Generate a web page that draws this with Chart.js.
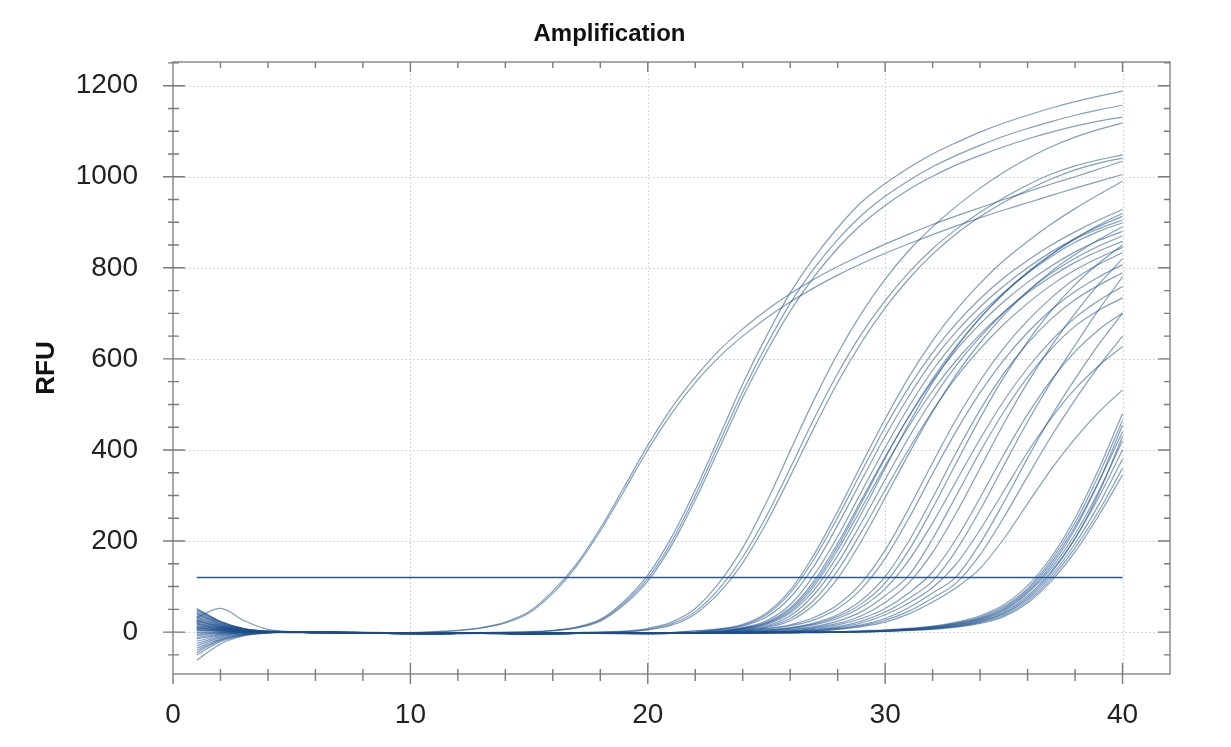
<!DOCTYPE html>
<html>
<head>
<meta charset="utf-8">
<title>Amplification</title>
<script src="https://cdn.jsdelivr.net/npm/chart.js@4.4.1/dist/chart.umd.min.js"></script>
<style>
  html, body { margin: 0; padding: 0; background: #fff; }
  #wrap { width: 1231px; height: 747px; position: relative; }
</style>
</head>
<body>
<div id="wrap"><canvas id="ampChart"></canvas></div>
<script>
const cycles = [1,2,3,4,5,6,7,8,9,10,11,12,13,14,15,16,17,18,19,20,21,22,23,24,25,26,27,28,29,30,31,32,33,34,35,36,37,38,39,40]

const xTicks = [0, 10, 20, 30, 40]
const yTicks = [0, 200, 400, 600, 800, 1000, 1200]
const threshold = 120

// RFU per cycle, one array per well
const wellA1 = [52,24,8,2, 1,0,-1,-2,-2,-1, 1,4,10,22,45,90,150,228,318,410, 492,560,618,666,707,743,775,803,828,852, 874,895,914,932,950,967,984,1000,1017,1034]
const wellA2 = [18,9,3,1, 0,-1,-2,-2,-3,-2, 0,3,9,20,42,85,145,222,310,400, 480,548,604,650,690,725,756,784,809,832, 853,873,892,910,927,943,959,975,990,1005]

const wellB1 = [40,19,6,1, 1,0,-1,-1,-2,-3, -3,-2,-1,0,1,4,11,28,68,125, 208,312,428,545,650,745,822,888,944,985, 1020,1050,1075,1098,1118,1135,1151,1165,1177,1188]
const wellB2 = [10,5,2,0, -1,-1,-2,-2,-3,-4, -4,-3,-2,-1,0,3,10,26,64,118, 198,300,414,528,630,722,798,862,915,957, 992,1022,1047,1069,1089,1106,1121,1135,1147,1157]
const wellB3 = [-20,-8,-2,0, 0,-1,-2,-3,-3,-4, -3,-3,-2,-1,0,3,9,24,60,112, 190,290,402,515,615,705,780,843,895,937, 972,1001,1026,1047,1066,1083,1098,1111,1122,1131]

const wellC1 = [45,21,7,2, 1,0,-1,-2,-2,-3, -3,-2,-2,-3,-3,-2,-1,0,2,8, 22,52,108,185,285,398,510,612,700,775, 838,890,935,975,1010,1040,1066,1087,1104,1118]
const wellC2 = [25,12,4,1, 0,-1,-2,-2,-3,-4, -4,-3,-3,-4,-4,-3,-2,-1,1,6, 18,45,95,165,255,360,468,568,655,728, 790,842,885,922,954,982,1006,1024,1037,1048]
const wellC3 = [-35,-15,-5,-1, 0,0,-1,-2,-2,-3, -3,-2,-2,-3,-3,-2,-1,0,1,5, 15,40,86,152,240,342,448,548,636,712, 776,830,875,912,944,971,995,1015,1030,1041]

const wellD1 = [35,16,5,1, 1,0,-1,-1,-2,-3, -3,-2,-2,-3,-4,-3,-2,-2,-3,-2, -1,3,7,17,42,92,170,265,368,468, 560,640,708,766,816,858,896,930,961,990]
const wellD2 = [28,13,4,1, 0,-1,-1,-2,-3,-4, -4,-3,-3,-4,-5,-4,-3,-3,-3,-2, -1,2,6,15,38,86,160,252,352,450, 538,614,678,732,778,816,850,879,905,928]
const wellD3 = [22,10,3,0, 1,1,0,0,-1,-2, -2,-1,-1,-2,-3,-2,-1,-1,-2,-2, -1,0,5,13,33,76,145,235,333,430, 518,596,660,714,760,800,835,865,891,913]
const wellD4 = [15,7,2,0, 0,0,-1,-2,-3,-3, -4,-3,-2,-3,-4,-4,-3,-2,-3,-3, -2,-1,4,10,25,60,125,210,308,405, 495,575,642,698,746,788,825,856,880,899]
const wellD5 = [8,4,1,0, -1,-1,-2,-3,-3,-4, -4,-4,-3,-4,-5,-4,-3,-3,-4,-4, -3,-2,0,9,22,53,112,195,290,385, 473,552,620,677,726,768,804,835,860,880]
const wellD6 = [3,2,1,0, 1,0,0,-1,-2,-2, -3,-2,-1,-2,-3,-3,-2,-1,-2,-2, -2,-1,1,8,19,46,100,180,272,365, 452,530,597,654,703,745,781,812,837,858]
const wellD7 = [-5,-2,0,0, 0,-1,-1,-2,-2,-3, -3,-3,-2,-3,-4,-3,-2,-2,-3,-3, -2,-1,1,7,17,42,92,168,260,360, 458,548,625,690,745,791,830,863,886,905]
const wellD8 = [-12,-5,-1,0, 0,0,-1,-1,-2,-3, -3,-2,-2,-2,-3,-3,-2,-1,-2,-2, -1,-1,0,6,14,36,82,152,240,335, 428,512,586,648,702,748,788,821,848,870]
const wellD9 = [-45,-18,-6,-1, 0,-1,-2,-2,-3,-4, -4,-3,-3,-3,-4,-4,-3,-2,-3,-3, -2,-2,-1,5,12,30,70,135,220,312, 402,486,560,622,676,722,762,795,822,845]
const wellD10 = [30,14,4,1, 0,0,-1,-2,-2,-3, -3,-3,-2,-3,-4,-3,-2,-2,-3,-3, -2,-2,-1,2,10,25,60,118,200,295, 392,484,566,636,696,748,792,829,862,890]
const wellD11 = [48,22,7,2, 1,0,0,-1,-2,-3, -3,-2,-2,-3,-3,-3,-2,-1,-2,-2, -2,-1,2,8,20,50,106,188,284,382, 474,556,628,690,743,789,829,864,894,920]

const wellE1 = [50,23,7,2, 1,0,-1,-1,-2,-3, -3,-2,-2,-3,-3,-3,-2,-2,-3,-3, -2,-1,1,4,8,16,32,60,108,180, 272,372,468,552,624,684,734,776,808,833]
const wellE2 = [38,17,5,1, 0,0,-1,-2,-2,-3, -4,-3,-2,-3,-4,-3,-3,-2,-3,-3, -3,-2,-1,2,7,14,27,52,95,162, 250,348,442,526,598,658,708,748,780,807]
const wellE3 = [20,9,3,1, 1,1,0,-1,-1,-2, -2,-2,-1,-2,-3,-2,-2,-1,-2,-2, -2,-1,0,2,5,10,20,38,70,122, 200,295,395,488,568,634,688,730,762,789]
const wellE4 = [12,6,2,0, 0,-1,-1,-2,-3,-3, -4,-3,-3,-3,-4,-4,-3,-2,-3,-4, -3,-3,-2,0,4,9,18,34,62,108, 180,272,372,470,560,638,706,763,810,850]
const wellE5 = [5,2,1,0, 0,0,-1,-1,-2,-2, -3,-2,-2,-2,-3,-3,-2,-2,-2,-3, -2,-2,-1,0,3,8,16,30,55,95, 158,240,332,424,508,580,640,690,728,759]
const wellE6 = [0,0,0,0, 0,-1,-1,-2,-2,-3, -3,-3,-2,-3,-4,-3,-2,-2,-3,-3, -3,-2,-2,-1,2,6,12,24,45,80, 125,205,300,396,484,560,622,672,707,734]
const wellE7 = [-8,-3,-1,0, 0,0,-1,-2,-2,-3, -3,-2,-2,-3,-3,-3,-2,-2,-2,-3, -2,-2,-1,-1,1,5,10,19,36,65, 108,175,262,360,458,548,628,700,764,820]
const wellE8 = [-25,-10,-3,-1, 0,-1,-1,-2,-3,-3, -4,-3,-3,-3,-4,-4,-3,-3,-3,-4, -3,-3,-2,-2,-1,2,8,16,30,52, 86,132,205,295,390,478,554,616,664,701]
const wellE9 = [-62,-26,-8,-2, 0,0,-1,-1,-2,-3, -3,-2,-2,-2,-3,-3,-2,-2,-2,-3, -2,-2,-1,-1,0,2,6,12,24,44, 74,112,180,268,366,462,550,630,708,780]
const wellE10 = [42,19,6,1, 1,0,0,-1,-2,-2, -3,-2,-2,-3,-3,-2,-2,-1,-2,-2, -2,-1,-1,0,1,2,5,10,20,38, 64,98,150,225,310,395,470,534,585,627]
const wellE11 = [32,52,25,6, 1,0,-1,-2,-2,-3, -3,-3,-2,-3,-4,-3,-3,-2,-3,-3, -3,-2,-2,-1,-1,1,3,8,16,30, 54,86,122,195,285,382,474,556,632,700]
const wellE12 = [14,7,2,0, 0,-1,-1,-2,-2,-3, -3,-2,-2,-3,-3,-3,-2,-2,-2,-3, -2,-2,-1,-1,0,1,3,7,14,26, 46,75,108,170,252,342,430,510,584,650]
const wellE13 = [-15,-6,-2,0, 0,0,-1,-1,-2,-2, -3,-2,-2,-2,-3,-3,-2,-1,-2,-2, -2,-1,-1,0,0,1,2,6,12,22, 40,66,98,140,205,282,358,425,483,532]

const wellF1 = [26,12,4,1, 0,0,-1,-2,-2,-3, -3,-3,-2,-3,-4,-3,-2,-2,-3,-3, -3,-2,-2,-2,-1,-1,0,1,3,5, 8,13,22,36,60,102,165,250,358,480]
const wellF2 = [18,8,3,1, 1,0,0,-1,-2,-2, -3,-2,-2,-2,-3,-3,-2,-1,-2,-2, -2,-2,-1,-1,-1,0,0,1,2,4, 7,12,20,33,56,96,158,240,345,465]
const wellF3 = [6,3,1,0, 0,-1,-1,-2,-3,-3, -4,-3,-3,-3,-4,-4,-3,-2,-3,-3, -3,-3,-2,-2,-2,-1,-1,0,2,4, 7,11,19,31,53,92,152,232,330,440]
const wellF4 = [-2,-1,0,0, 0,0,-1,-1,-2,-2, -3,-2,-2,-2,-3,-3,-2,-2,-2,-3, -2,-2,-2,-1,-1,-1,0,0,1,3, 6,10,17,29,50,88,146,226,330,455]
const wellF5 = [-30,-12,-4,-1, 0,-1,-1,-2,-2,-3, -3,-3,-2,-3,-3,-3,-2,-2,-3,-3, -2,-2,-2,-2,-1,-1,0,0,1,3, 6,10,17,28,48,85,140,215,310,420]
const wellF6 = [-50,-21,-7,-2, 0,0,-1,-1,-2,-3, -3,-2,-2,-2,-3,-3,-2,-2,-2,-2, -2,-2,-1,-1,-1,0,0,0,1,2, 5,9,15,26,45,80,134,206,296,400]
const wellF7 = [33,15,5,1, 0,0,-1,-2,-2,-3, -3,-2,-2,-3,-4,-3,-2,-2,-3,-3, -3,-2,-2,-2,-2,-1,-1,0,1,2, 5,8,14,24,42,76,130,205,305,430]
const wellF8 = [24,11,3,1, 1,0,0,-1,-1,-2, -2,-2,-1,-2,-3,-2,-2,-1,-2,-2, -2,-1,-1,-1,-1,0,0,0,1,2, 5,8,13,23,40,72,124,194,280,380]
const wellF9 = [10,4,1,0, 0,-1,-1,-2,-2,-3, -3,-3,-2,-3,-3,-3,-2,-2,-2,-3, -2,-2,-2,-1,-1,-1,0,0,1,2, 4,7,12,21,37,68,118,185,266,360]
const wellF10 = [-40,-17,-5,-1, 0,0,-1,-1,-2,-3, -3,-2,-2,-2,-3,-3,-2,-2,-2,-2, -2,-2,-1,-1,-1,-1,0,0,0,2, 4,6,11,19,34,64,112,176,256,345]

const wells = [
  wellA1, wellA2, wellB1, wellB2, wellB3, wellC1, wellC2, wellC3,
  wellD1, wellD2, wellD3, wellD4, wellD5, wellD6, wellD7, wellD8, wellD9, wellD10, wellD11,
  wellE1, wellE2, wellE3, wellE4, wellE5, wellE6, wellE7, wellE8, wellE9, wellE10, wellE11, wellE12, wellE13,
  wellF1, wellF2, wellF3, wellF4, wellF5, wellF6, wellF7, wellF8, wellF9, wellF10
]

const lineColor = 'rgba(28, 78, 140, 0.55)'
const frameColor = '#8c8c8c'
const tickFont = { family: "'Liberation Sans', Arial, sans-serif", size: 28 }

// frame, dotted grid and the minor/major tick marks on all four sides
const plotFrame = {
  id: 'plotFrame',
  beforeDatasetsDraw(chart) {
    const { ctx, chartArea: a, scales: { x, y } } = chart
    ctx.save()
    ctx.strokeStyle = '#d6d6d6'
    ctx.lineWidth = 1
    ctx.setLineDash([2, 2])
    xTicks.forEach(v => {
      if (v === 0) return
      const px = Math.round(x.getPixelForValue(v)) + 0.5
      ctx.beginPath(); ctx.moveTo(px, a.top); ctx.lineTo(px, a.bottom); ctx.stroke()
    })
    yTicks.forEach(v => {
      const py = Math.round(y.getPixelForValue(v)) + 0.5
      ctx.beginPath(); ctx.moveTo(a.left, py); ctx.lineTo(a.right, py); ctx.stroke()
    })
    ctx.restore()
  },
  afterDraw(chart) {
    const { ctx, chartArea: a, scales: { x, y } } = chart
    ctx.save()
    ctx.strokeStyle = frameColor
    ctx.lineWidth = 1.5
    ctx.strokeRect(a.left, a.top, a.right - a.left, a.bottom - a.top)

    ctx.lineWidth = 1.4
    ctx.strokeStyle = '#7a7a7a'
    ctx.beginPath()
    for (let v = -50; v <= 1250; v += 50) {
      const py = y.getPixelForValue(v)
      const major = v % 200 === 0
      // left side crosses the axis, right side points inward
      ctx.moveTo(a.left - (major ? 10 : 5), py); ctx.lineTo(a.left + (major ? 12 : 6), py)
      ctx.moveTo(a.right, py); ctx.lineTo(a.right - (major ? 12 : 6), py)
    }
    for (let v = 2; v <= 40; v += 2) {
      const px = x.getPixelForValue(v)
      const major = v % 10 === 0
      ctx.moveTo(px, a.bottom + (major ? 10 : 7)); ctx.lineTo(px, a.bottom - (major ? 11 : 5))
      ctx.moveTo(px, a.top); ctx.lineTo(px, a.top + (major ? 10 : 6))
    }
    const x0 = x.getPixelForValue(0)
    ctx.moveTo(x0, a.bottom); ctx.lineTo(x0, a.bottom + 10)
    ctx.stroke()
    ctx.restore()
  }
}

const datasets = [{
  label: 'Threshold',
  data: [{ x: cycles[0], y: threshold }, { x: cycles[cycles.length - 1], y: threshold }],
  borderColor: 'rgb(38, 88, 152)',
  borderWidth: 1.6,
  pointRadius: 0
}]

wells.forEach((values, i) => {
  datasets.push({
    label: 'Well ' + (i + 1),
    data: values.map((v, k) => ({ x: cycles[k], y: v })),
    borderColor: lineColor,
    borderWidth: 1.2,
    pointRadius: 0,
    cubicInterpolationMode: 'monotone'
  })
})

const ctx = document.getElementById('ampChart')

new Chart(ctx, {
  type: 'line',
  data: { datasets },
  options: {
    responsive: true,
    maintainAspectRatio: false,
    animation: false,
    events: [],
    layout: { padding: { left: 0, right: 12, top: 0, bottom: 0 } },
    plugins: {
      legend: { display: false },
      tooltip: { enabled: false },
      title: {
        display: true,
        text: 'Amplification',
        color: '#111',
        font: { family: "'Liberation Sans', Arial, sans-serif", size: 24, weight: 'bold' },
        padding: { top: 20, bottom: 13.2 }
      }
    },
    scales: {
      x: {
        type: 'linear',
        min: 0,
        max: 42,
        grid: { display: false },
        border: { display: false },
        afterBuildTicks: s => { s.ticks = xTicks.map(v => ({ value: v })) },
        afterFit: s => { s.height = 73 },
        ticks: { color: '#222', font: tickFont, padding: 16, autoSkip: false, maxRotation: 0, callback: v => String(v) }
      },
      y: {
        type: 'linear',
        min: -92,
        max: 1252,
        grid: { display: false },
        border: { display: false },
        afterBuildTicks: s => { s.ticks = yTicks.map(v => ({ value: v })) },
        afterFit: s => { s.width = 173 },
        ticks: { color: '#222', font: tickFont, padding: 27, autoSkip: false, callback: v => String(v) },
        title: {
          display: true,
          text: 'RFU',
          color: '#111',
          font: { family: "'Liberation Sans', Arial, sans-serif", size: 26, weight: 'bold' },
          padding: { top: 31, bottom: 0 }
        }
      },
      yRight: {
        type: 'linear',
        position: 'right',
        min: 0,
        max: 1,
        grid: { display: false },
        border: { display: false },
        ticks: { display: false },
        afterFit: s => { s.width = 49 }
      }
    }
  },
  plugins: [plotFrame]
})
</script>
</body>
</html>
